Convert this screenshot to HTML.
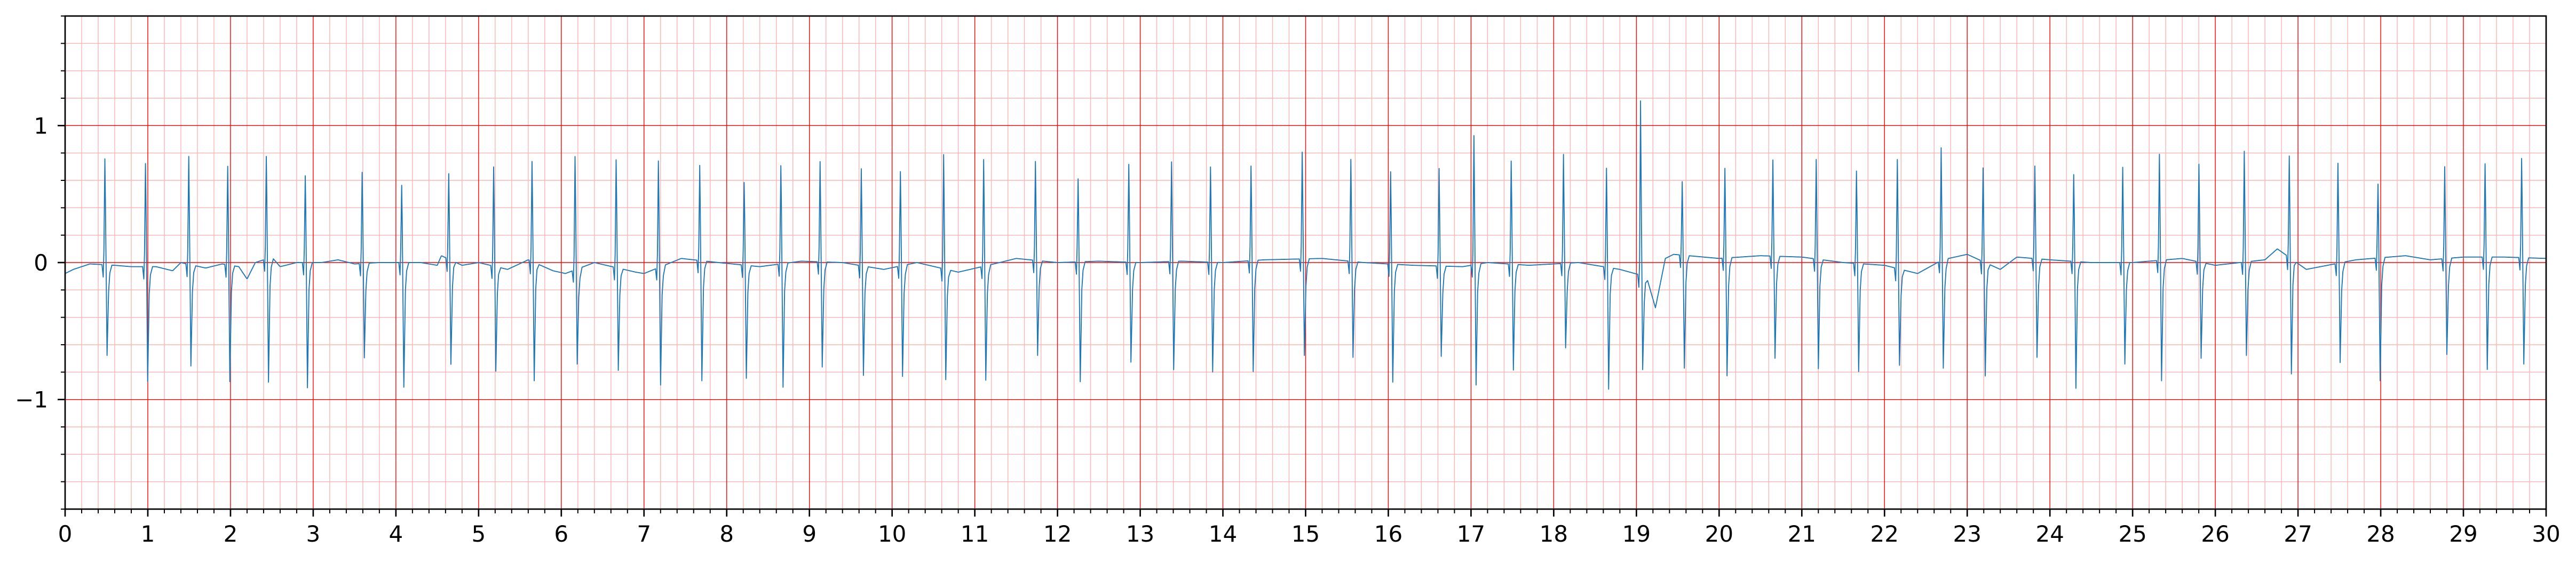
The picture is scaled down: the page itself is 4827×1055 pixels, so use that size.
<!DOCTYPE html>
<html><head><meta charset="utf-8"><title>ECG chart</title>
<style>html,body{margin:0;padding:0;background:#fff}svg{display:block}</style></head>
<body>
<svg id="chart" width="4827" height="1055" xmlns="http://www.w3.org/2000/svg" font-family="DejaVu Sans, Liberation Sans, sans-serif">
<g id="grid"></g>
<g id="trace"></g>
<g id="axes"></g>
</svg>
<script>
// Beat data: R-peak times (s), R amplitudes, S amplitudes
const beatTimes = [0.481,0.972,1.495,1.966,2.433,2.904,3.592,4.07,4.639,5.182,5.646,6.166,6.663,7.174,7.674,8.211,8.655,9.129,9.627,10.10,10.623,11.107,11.733,12.249,12.862,13.379,13.85,14.34,14.959,15.547,16.028,16.614,17.035,17.486,18.118,18.638,19.05,19.554,20.07,20.65,21.174,21.661,22.155,22.685,23.192,23.818,24.288,24.88,25.324,25.802,26.35,26.894,27.483,27.967,28.774,29.262,29.704];
const rPeaks = [0.757,0.723,0.775,0.703,0.775,0.634,0.659,0.564,0.649,0.698,0.738,0.774,0.750,0.742,0.709,0.585,0.707,0.737,0.685,0.664,0.788,0.752,0.738,0.611,0.717,0.735,0.698,0.705,0.806,0.753,0.663,0.687,0.927,0.741,0.790,0.689,1.18,0.591,0.688,0.749,0.752,0.668,0.752,0.838,0.691,0.705,0.642,0.696,0.791,0.718,0.813,0.778,0.725,0.573,0.700,0.721,0.760];
const sPeaks = [-0.678,-0.87,-0.755,-0.87,-0.873,-0.914,-0.696,-0.91,-0.743,-0.793,-0.863,-0.741,-0.787,-0.894,-0.863,-0.845,-0.910,-0.763,-0.824,-0.831,-0.855,-0.859,-0.678,-0.870,-0.727,-0.782,-0.799,-0.796,-0.678,-0.692,-0.873,-0.685,-0.894,-0.785,-0.623,-0.924,-0.782,-0.771,-0.827,-0.699,-0.775,-0.796,-0.750,-0.771,-0.828,-0.692,-0.918,-0.741,-0.863,-0.699,-0.678,-0.813,-0.730,-0.863,-0.671,-0.780,-0.741];
// Baseline wander knots
const baseT = [0,0.1,0.3,0.6,0.8,1.1,1.3,1.4,1.7,1.9,2.1,2.2,2.3,2.5,2.6,2.8,3.1,3.3,3.5,3.8,4.3,4.5,4.55,4.8,5.0,5.35,5.6,5.9,6.05,6.4,6.9,7.0,7.45,7.9,8.4,8.9,9.4,9.9,10.3,10.8,11.3,11.5,12.0,12.5,13.0,13.5,14.0,14.5,15.2,15.7,16.3,16.9,17.2,17.7,18.3,18.8,18.98,19.12,19.23,19.35,19.45,20.0,20.5,21.0,21.5,22.0,22.4,22.7,23.0,23.4,23.6,24.0,24.5,25.0,25.6,26.0,26.6,26.75,27.1,27.7,28.3,28.6,29.0,29.5,30];
const baseV = [-0.08,-0.05,-0.01,-0.02,-0.03,-0.03,-0.06,0.0,-0.04,-0.01,-0.03,-0.12,0.0,0.04,-0.03,0.0,0.0,0.02,-0.01,0.0,0.0,-0.02,0.05,-0.02,0.0,-0.05,0.02,-0.06,-0.08,0.0,-0.07,-0.08,0.03,0.0,-0.03,0.01,0.0,-0.05,0.0,-0.07,0.0,0.03,0.0,0.01,0.0,0.01,0.0,0.02,0.03,0.0,-0.02,-0.03,0.0,-0.02,0.0,-0.05,-0.08,-0.1,-0.33,0.03,0.06,0.03,0.05,0.04,0.0,-0.02,-0.08,0.02,0.06,-0.05,0.04,0.02,0.0,0.0,0.03,-0.02,0.02,0.1,-0.05,0.02,0.05,0.02,0.04,0.04,0.03];
const xTicks = [0,1,2,3,4,5,6,7,8,9,10,11,12,13,14,15,16,17,18,19,20,21,22,23,24,25,26,27,28,29,30];
const yTicks = [-1,0,1];
const yTickLabels = ["\u22121","0","1"];

const L=122,R=4771,T=30,B=954,XMIN=0,XMAX=30,YMIN=-1.8,YMAX=1.8;
const sx = v => L + (v-XMIN)/(XMAX-XMIN)*(R-L);
const sy = v => B - (v-YMIN)/(YMAX-YMIN)*(B-T);
const NS="http://www.w3.org/2000/svg";
function mk(tag, parent, attrs){const e=document.createElementNS(NS,tag);for(const k in attrs)e.setAttribute(k,attrs[k]);parent.appendChild(e);return e;}
const grid=document.getElementById('grid'), trace=document.getElementById('trace'), axes=document.getElementById('axes');

// minor grid
for(let i=0;i<=150;i++){const x=sx(i*0.2); if(i%5===0)continue;
  const l=mk('line',grid,{x1:x,x2:x,y1:T,y2:B,stroke:'#ffb3b3','stroke-width':1.4});
  
  }
for(let i=0;i<=18;i++){const v=-1.8+i*0.2; if(Math.abs(v-Math.round(v))<1e-6)continue; const y=sy(v);
  const l=mk('line',grid,{x1:L,x2:R,y1:y,y2:y,stroke:'#ffb3b3','stroke-width':1.4});
  
  }
xTicks.forEach(v=>{const x=sx(v);
  const l=mk('line',grid,{x1:x,x2:x,y1:T,y2:B,stroke:'#ff0000','stroke-width':1.4});
  
  });
yTicks.forEach(v=>{const y=sy(v);
  const l=mk('line',grid,{x1:L,x2:R,y1:y,y2:y,stroke:'#ff0000','stroke-width':1.4});
  
  });

// signal
function base(t){for(let i=0;i<baseT.length-1;i++){if(t>=baseT[i]&&t<=baseT[i+1]){const f=(t-baseT[i])/(baseT[i+1]-baseT[i]);return baseV[i]+f*(baseV[i+1]-baseV[i]);}}return baseV[baseV.length-1];}
const pts=[];
let bi=0;
for(let t=0;t<=30.0001;t+=0.006){
  let inBeat=false;
  for(let k=0;k<beatTimes.length;k++){if(t>beatTimes[k]-0.035&&t<beatTimes[k]+0.085){inBeat=true;break;}}
  if(!inBeat)pts.push([t,base(t)]);
}
beatTimes.forEach((bt,k)=>{const b=base(bt);
  pts.push([bt-0.035,base(bt-0.035)]);
  pts.push([bt-0.02,b-0.09]);
  pts.push([bt-0.012,b+0.1]);
  pts.push([bt,rPeaks[k]]);
  pts.push([bt+0.006,rPeaks[k]*0.6]);
  pts.push([bt+0.026,sPeaks[k]]);
  pts.push([bt+0.045,b-0.2]);
  pts.push([bt+0.06,b-0.06]);
  pts.push([bt+0.085,base(bt+0.085)]);
});
pts.sort((a,b)=>a[0]-b[0]);
const d=pts.map((p,i)=>(i?'L':'M')+sx(p[0]).toFixed(1)+' '+sy(p[1]).toFixed(1)).join('');
const path=mk('path',trace,{d:d,fill:'none',stroke:'#1f77b4','stroke-width':1.9,'stroke-linejoin':'round'});



// spines
const fr=mk('rect',axes,{x:L,y:T,width:R-L,height:B-T,fill:'none',stroke:'#000','stroke-width':2.7});


// x ticks
for(let i=0;i<=150;i++){const x=sx(i*0.2);const maj=i%5===0;
  const l=mk('line',axes,{x1:x,x2:x,y1:B,y2:B+(maj?14:8),stroke:'#000','stroke-width':maj?2.7:2});
  
  }
xTicks.forEach(v=>{const t=mk('text',axes,{x:sx(v),y:1015,'font-size':42,'text-anchor':'middle',fill:'#000'});t.textContent=String(v);
  
  });
// y ticks
for(let i=0;i<=18;i++){const v=-1.8+i*0.2;const maj=Math.abs(v-Math.round(v))<1e-6&&Math.abs(v)<1.5;const y=sy(v);
  const l=mk('line',axes,{x1:L-(maj?14:8),x2:L,y1:y,y2:y,stroke:'#000','stroke-width':maj?2.7:2});
  
  }
yTicks.forEach((v,i)=>{const t=mk('text',axes,{x:90,y:sy(v)+15,'font-size':42,'text-anchor':'end',fill:'#000'});t.textContent=yTickLabels[i];
  
  });
</script>
</body></html>
